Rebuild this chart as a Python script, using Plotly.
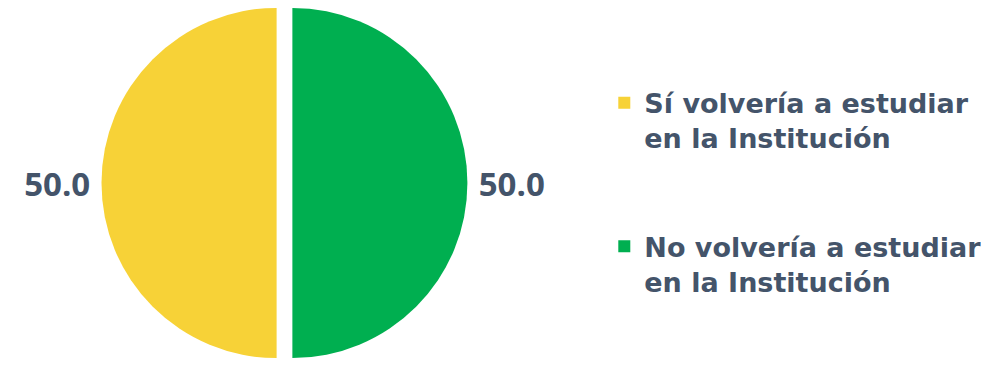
import plotly.graph_objects as go

# Survey answer categories and their shares (%)
categories = [
    "Sí volvería a estudiar<br>en la Institución",
    "No volvería a estudiar<br>en la Institución",
]
values = [50.0, 50.0]
colors = ["#F7D237", "#00AF50"]

text_color = "#44546A"

# Legend entries get two empty lines below them to space the items apart
legend_labels = [c + "<br> <br> " for c in categories]

fig = go.Figure(
    go.Pie(
        labels=legend_labels,
        values=values,
        sort=False,
        direction="clockwise",
        rotation=180,
        pull=[0.045, 0.045],
        marker=dict(colors=colors, line=dict(width=0)),
        textinfo="value",
        texttemplate="%{value:.1f}",
        textposition="outside",
        textfont=dict(family="Open Sans", size=33, color=text_color, weight="bold"),
        domain=dict(x=[0.0, 0.58], y=[0.0, 1.0]),
        hoverinfo="skip",
    )
)

fig.update_layout(
    width=981,
    height=366,
    margin=dict(l=0, r=0, t=0, b=0, autoexpand=False),
    paper_bgcolor="white",
    plot_bgcolor="white",
    showlegend=True,
    legend=dict(
        x=0.616,
        y=0.785,
        xanchor="left",
        yanchor="top",
        valign="top",
        font=dict(family="DejaVu Sans", size=27, color=text_color, weight="bold"),
        bgcolor="rgba(0,0,0,0)",
    ),
)

fig.write_html("out.html")
